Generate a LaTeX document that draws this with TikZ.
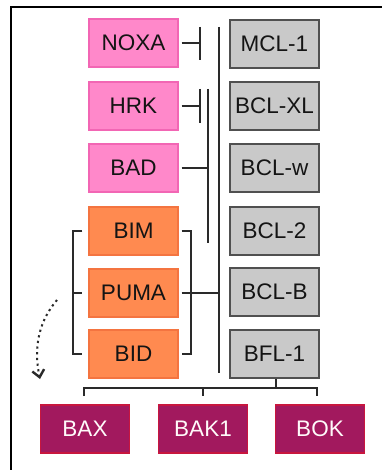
\documentclass[tikz,border=0pt]{standalone}
\usepackage{fontspec}
\setmainfont{Liberation Sans}
\usetikzlibrary{arrows.meta}
\definecolor{pinkf}{HTML}{FF88CA}
\definecolor{pinkd}{HTML}{F266B4}
\definecolor{orf}{HTML}{FF8A50}
\definecolor{ord}{HTML}{F47440}
\definecolor{grf}{HTML}{C9C9C9}
\definecolor{grd}{HTML}{505050}
\definecolor{mrf}{HTML}{A2195E}
\definecolor{mrd}{HTML}{C8163E}
\definecolor{lnc}{HTML}{2A2A2A}
\begin{document}
\begin{tikzpicture}[x=1pt,y=-1pt,
  box/.style={minimum width=89pt,minimum height=48pt,inner sep=0pt,line width=1.2pt,font=\fontsize{22.5}{25}\selectfont,text=black!92},
  pinkbox/.style={box,fill=pinkf,draw=pinkd},
  orbox/.style={box,fill=orf,draw=ord},
  grbox/.style={box,fill=grf,draw=grd},
  mrbox/.style={box,fill=mrf,draw=mrd,text=white!92!pink},
  ln/.style={draw=lnc,line width=1.5pt}]
\useasboundingbox (0,0) rectangle (382,470);
\fill[white] (0,0) rectangle (382,470);
\draw[line width=2.2pt] (11,470) -- (11,7) -- (382,7);
% left column
\node[pinkbox] (noxa) at (133.5,43) {NOXA};
\node[pinkbox] (hrk) at (133.5,106) {HRK};
\node[pinkbox] (bad) at (133.5,168) {BAD};
\node[orbox] (bim) at (133.5,231) {BIM};
\node[orbox] (puma) at (133.5,293) {PUMA};
\node[orbox] (bid) at (133.5,354) {BID};
% right column
\node[grbox] (mcl) at (274.5,44) {MCL-1};
\node[grbox] (bclxl) at (274.5,106) {BCL-XL};
\node[grbox] (bclw) at (274.5,168) {BCL-w};
\node[grbox] (bcl2) at (274.5,231) {BCL-2};
\node[grbox] (bclb) at (274.5,292) {BCL-B};
\node[grbox] (bfl) at (274.5,354) {BFL-1};
% bottom
\node[mrbox] (bax) at (85,429) {BAX};
\node[mrbox] (bak) at (203,429) {BAK1};
\node[mrbox] (bok) at (320,429) {BOK};
% coordinates
\coordinate (ta) at (200,43);
\coordinate (tb) at (200,106);
\coordinate (v2top) at (208,89);
\coordinate (v2bot) at (208,243);
\coordinate (v1top) at (219,27);
\coordinate (v1bot) at (219,373);
% inhibition NOXA
\draw[ln] (noxa.east)++(3,0) -- (ta);
\draw[ln] (200,27) -- (200,60);
% inhibition HRK
\draw[ln] (hrk.east)++(3,0) -- (tb);
\draw[ln] (200,89) -- (200,123);
% vertical lines
\draw[ln] (v2top) -- (v2bot);
\draw[ln] (v1top) -- (v1bot);
% BAD
\draw[ln] (bad.east)++(3,0) -- (208,168);
% PUMA
\draw[ln] (puma.east)++(3,0) -- (219,293);
% right bracket
\draw[ln] ([xshift=3pt]bim.east) -- (191,231) -- (191,354) -- ([xshift=3pt]bid.east);
% left bracket
\draw[ln] ([xshift=-6pt]bim.west) -- (73,231) -- (73,354) -- ([xshift=-6pt]bid.west);
\draw[ln] (73,293) -- ([xshift=-6pt]puma.west);
% bottom bus
\coordinate (busj) at (276,388);
\draw[ln] (bfl.south -| busj) -- (busj);
\draw[ln] (84,396) -- (84,388) -- (317,388) -- (317,396);
\draw[ln] (203,388) -- (203,396);
% dotted arrow
\draw[lnc,line width=2pt,dash pattern=on 2.2pt off 3.5pt,-{Straight Barb[length=7pt,width=12pt,line width=2.4pt]}]
  (57,300) .. controls (40,320) and (33,345) .. (40,379);
\end{tikzpicture}
\end{document}
